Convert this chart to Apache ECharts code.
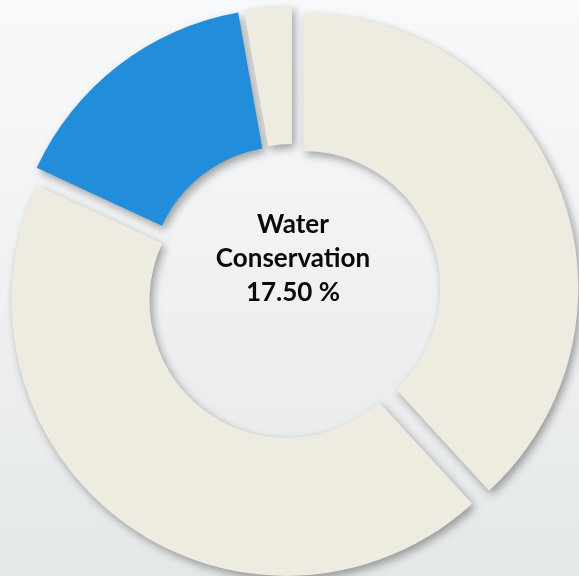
<!DOCTYPE html>
<html>
<head>
<meta charset="utf-8">
<script src="https://cdn.jsdelivr.net/npm/echarts@6/dist/echarts.min.js"></script>
<style>
  html, body { margin: 0; padding: 0; }
  #chart { width: 579px; height: 576px; }
</style>
</head>
<body>
<div id="chart"></div>
<script>
// slices, clockwise from 12 o'clock
const categories = ['Other 1', 'Other 2', 'Water Conservation', 'Other 3'];
const values = [38.2, 43.7, 15.3, 2.8];
const colors = ['#EEEBE1', '#EEEBE1', '#228DDB', '#EEEBE1'];
const centerLines = ['Water', 'Conservation', '17.50 %'];

const chart = echarts.init(document.getElementById('chart'));

const data = categories.map((name, i) => ({
    name: name,
    value: values[i],
    selected: true,
    itemStyle: { color: colors[i] }
}));

const option = {
    animation: false,
    backgroundColor: {
        type: 'linear', x: 0, y: 0, x2: 0, y2: 1,
        colorStops: [
            { offset: 0, color: '#F8F9FA' },
            { offset: 1, color: '#E5E8E9' }
        ]
    },
    graphic: [
        {
            type: 'text',
            x: 293,
            y: 259,
            z: 10,
            style: {
                text: centerLines.join('\n'),
                font: 'bold 26px Lato',
                fill: '#0A0A0A',
                align: 'center',
                verticalAlign: 'middle',
                lineHeight: 34
            }
        }
    ],
    series: [
        {
            type: 'pie',
            center: [293, 292],
            radius: [137, 275],
            startAngle: 90,
            clockwise: true,
            selectedMode: 'multiple',
            selectedOffset: 11,
            label: { show: false },
            labelLine: { show: false },
            emphasis: { disabled: true },
            itemStyle: {
                borderWidth: 0,
                shadowBlur: 8,
                shadowOffsetX: 3,
                shadowOffsetY: 4,
                shadowColor: 'rgba(0,0,0,0.35)'
            },
            select: {
                itemStyle: { borderWidth: 0 }
            },
            data: data
        }
    ]
};

chart.setOption(option);
</script>
</body>
</html>
